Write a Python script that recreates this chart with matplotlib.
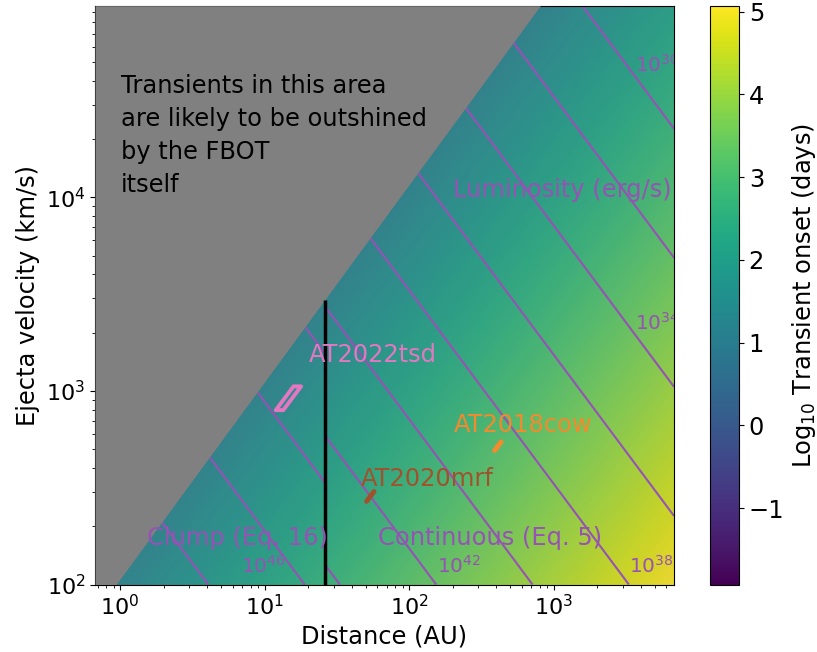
import numpy as np
import matplotlib.pyplot as plt
from matplotlib.cm import ScalarMappable

AU_KM = 1.496e8
DAY_S = 86400.0

# axis ranges
dist_lim = [0.67, 6800.0]      # AU
vel_lim = [1e2, 9.75e4]        # km/s

# edge of the region outshined by the FBOT (two points, straight in log-log)
gray_edge_r = [0.937, 807.0]   # AU
gray_edge_v = [1e2, 9.75e4]    # km/s
# distance (AU) where clump model (Eq. 16) hands over to continuous model (Eq. 5)
r_switch = 26.0

# log10 L = norm - 3 log10(R v)
lum_norm_cont = 54.56
lum_norm_clump = 55.83
levels_cont = [30, 32, 34, 36, 38, 40, 42, 44]
levels_clump = [42, 44, 46, 48]

# labelled contours: exponent and where the label sits
lum_label_exp = [30, 34, 38, 42, 46]
lum_label_r = [3660, 3660, 3330, 155, 6.85]
lum_label_v = [48500, 2250, 125, 125, 125]

# observed transients
tsd_onset = [26.0, 29.3]       # days
tsd_vel = [795, 1055]          # km/s
mrf_onset = 327.0
mrf_vel = [269, 302]
cow_onset = 1374.0
cow_vel = [492, 545]

FS = 17.4
purple = '#9652b4'
orange = '#f28a2e'


def onset_days(r_au, v_kms):
    return r_au * AU_KM / v_kms / DAY_S


def dist_au(t_days, v_kms):
    return t_days * DAY_S * v_kms / AU_KM


def gray_edge(r_au):
    lr, lv = np.log10(gray_edge_r), np.log10(gray_edge_v)
    slope = (lv[1] - lv[0]) / (lr[1] - lr[0])
    return 10 ** (lv[0] + slope * (np.log10(r_au) - lr[0]))


r = np.logspace(np.log10(dist_lim[0]), np.log10(dist_lim[1]), 700)
v = np.logspace(np.log10(vel_lim[0]), np.log10(vel_lim[1]), 700)
R, V = np.meshgrid(r, v)
log_t = np.log10(onset_days(R, V))
outshined = V > gray_edge(R)

logL_cont = np.ma.masked_where((R < r_switch) | outshined,
                               lum_norm_cont - 3 * np.log10(R * V))
logL_clump = np.ma.masked_where((R > r_switch) | outshined,
                                lum_norm_clump - 3 * np.log10(R * V))

fig = plt.figure(figsize=(8.17, 6.52), dpi=100)
ax = fig.add_axes([95 / 817, 1 - 584.5 / 652, 579 / 817, 578.8 / 652])
cax = fig.add_axes([710 / 817, 1 - 584.5 / 652, 29 / 817, 578.8 / 652])
ax.set_facecolor('gray')

mesh = ax.pcolormesh(R, V, log_t, cmap='viridis', shading='auto', alpha=0.85,
                     rasterized=True)
ax.contour(R, V, logL_cont, levels=levels_cont, colors=purple, linewidths=1.5)
ax.contour(R, V, logL_clump, levels=levels_clump, colors=purple, linewidths=1.5)
ax.fill_between(r, np.clip(gray_edge(r), vel_lim[0], vel_lim[1]), vel_lim[1],
                color='gray', lw=0, zorder=3)

# model boundary
ax.vlines(r_switch, vel_lim[0], gray_edge(r_switch), color='black', lw=2.5, zorder=4)

# transients
tsd_v = np.array([tsd_vel[0], tsd_vel[1], tsd_vel[1], tsd_vel[0]])
tsd_t = np.array([tsd_onset[0], tsd_onset[0], tsd_onset[1], tsd_onset[1]])
ax.fill(dist_au(tsd_t, tsd_v), tsd_v, facecolor='none', edgecolor='tab:pink',
        lw=2.8, joinstyle='round', zorder=5)
ax.plot(dist_au(mrf_onset, np.array(mrf_vel)), mrf_vel, color='sienna', lw=3.6,
        solid_capstyle='round', zorder=5)
ax.plot(dist_au(cow_onset, np.array(cow_vel)), cow_vel, color=orange, lw=3.6,
        solid_capstyle='round', zorder=5)

ax.text(20.2, 1540, 'AT2022tsd', color='tab:pink', fontsize=FS, va='center', zorder=6)
ax.text(203, 668, 'AT2018cow', color=orange, fontsize=FS, va='center', zorder=6)
ax.text(46.2, 351, 'AT2020mrf', color='sienna', fontsize=FS, va='center', zorder=6)

for e, lr, lv in zip(lum_label_exp, lum_label_r, lum_label_v):
    ax.text(lr, lv, r'$10^{%d}$' % e, color=purple, fontsize=FS - 3, va='center',
            clip_on=True, zorder=6)

ax.text(1.54, 174, 'Clump (Eq. 16)', color=purple, fontsize=FS, va='center', zorder=6)
ax.text(60.5, 174, 'Continuous (Eq. 5)', color=purple, fontsize=FS, va='center', zorder=6)
ax.text(0.9965, 0.682, 'Luminosity (erg/s)', color=purple, fontsize=FS, ha='right',
        va='center', transform=ax.transAxes, zorder=6)
ax.text(0.045, 0.882, 'Transients in this area\nare likely to be outshined\nby the FBOT\nitself',
        fontsize=FS, va='top', linespacing=1.47, transform=ax.transAxes, zorder=6)

ax.set_xscale('log')
ax.set_yscale('log')
ax.set_xlim(dist_lim)
ax.set_ylim(vel_lim)
ax.set_xlabel('Distance (AU)', fontsize=FS)
ax.set_ylabel('Ejecta velocity (km/s)', fontsize=FS)
ax.tick_params(labelsize=16)

cb = fig.colorbar(ScalarMappable(norm=mesh.norm, cmap=mesh.cmap), cax=cax)
cb.set_label(r'Log$_{10}$ Transient onset (days)', fontsize=FS)
cb.ax.tick_params(labelsize=FS)

fig.savefig('out.png', dpi=100)
